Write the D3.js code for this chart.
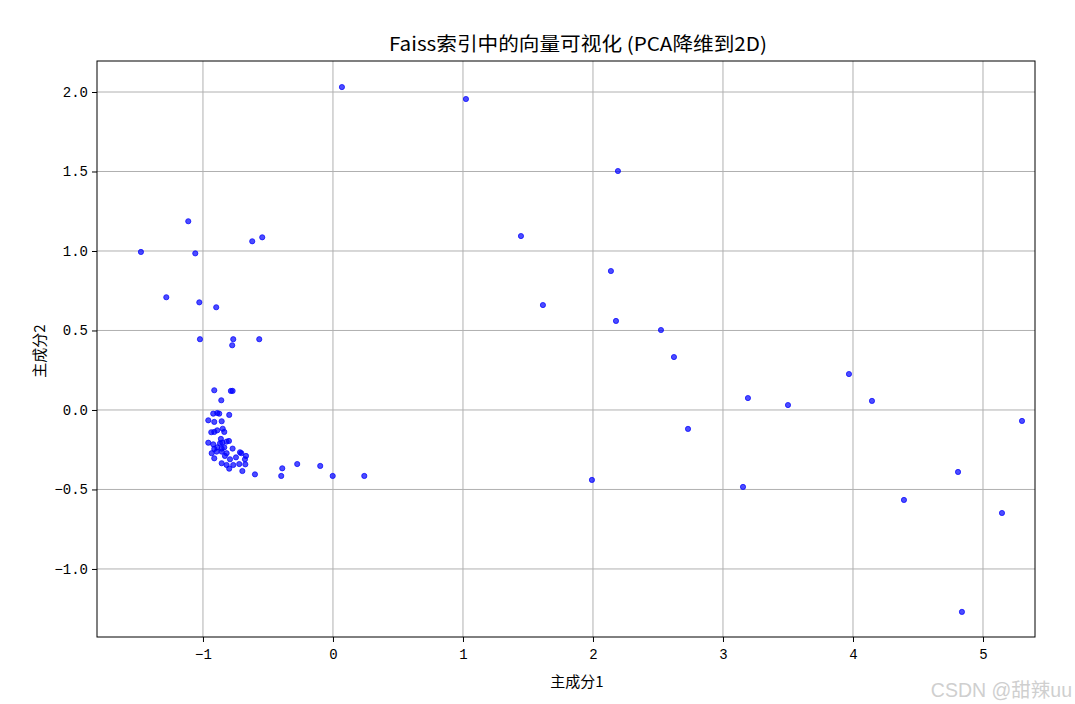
<!DOCTYPE html>
<html>
<head>
<meta charset="utf-8">
<script src="https://d3js.org/d3.v7.min.js"></script>
<style>
  body { margin: 0; background: #fff; }
  text { font-family: "Noto Sans CJK SC", "DejaVu Sans", sans-serif; }
</style>
</head>
<body>
<svg id="main_graph" width="1075" height="704"></svg>
<script>
// PCA components
var pc1 = [
  -0.913, -0.785, -0.772, -0.859, -0.921, -0.890, -0.875, -0.798, -0.959, -0.913,
  -0.856, -0.848, -0.890, -0.936, -0.913, -0.836, -0.862, -0.959, -0.921, -0.869,
  -0.851, -0.818, -0.800, -0.913, -0.890, -0.856, -0.836, -0.772, -0.933, -0.895,
  -0.856, -0.818, -0.715, -0.705, -0.913, -0.831, -0.792, -0.746, -0.669, -0.677,
  -0.856, -0.818, -0.767, -0.721, -0.674, -0.798, -0.697,
  -1.477, -1.113, -1.059, -1.282, -1.028, -0.898, -1.023, -0.767, -0.775, -0.567,
  -0.621, -0.544,
  -0.600, -0.390, -0.398, -0.275, -0.098, -0.002, 0.241,
  0.069, 1.023, 2.192, 1.446, 2.138, 1.615, 2.177, 2.523, 2.623, 3.192,
  3.500, 2.731, 3.969, 4.146, 5.300, 1.992, 3.154, 4.808, 4.392, 5.146, 4.838
];
var pc2 = [
  0.124, 0.120, 0.120, 0.061, -0.023, -0.019, -0.023, -0.031, -0.065, -0.075,
  -0.071, -0.118, -0.128, -0.140, -0.138, -0.138, -0.182, -0.206, -0.216, -0.210,
  -0.206, -0.199, -0.195, -0.245, -0.235, -0.243, -0.235, -0.243, -0.272, -0.262,
  -0.262, -0.272, -0.266, -0.272, -0.304, -0.289, -0.310, -0.298, -0.289, -0.310,
  -0.335, -0.346, -0.346, -0.340, -0.342, -0.369, -0.384,
  0.994, 1.187, 0.985, 0.709, 0.677, 0.646, 0.445, 0.445, 0.407, 0.445,
  1.061, 1.086,
  -0.405, -0.367, -0.415, -0.340, -0.352, -0.415, -0.415,
  2.031, 1.956, 1.503, 1.094, 0.874, 0.660, 0.560, 0.503, 0.333, 0.075,
  0.031, -0.119, 0.226, 0.057, -0.069, -0.440, -0.484, -0.390, -0.566, -0.648, -1.270
];
var xTicks = [-1, 0, 1, 2, 3, 4, 5];
var yTicks = [-1.0, -0.5, 0.0, 0.5, 1.0, 1.5, 2.0];

var svg = d3.select("svg");
var W = 1075, H = 704;
var m = { left: 97, right: 40, top: 61, bottom: 67 };

svg.append("rect").attr("width", W).attr("height", H).attr("fill", "#fff");

var x = d3.scaleLinear().domain([-1.815, 5.4]).range([m.left, W - m.right]);
var y = d3.scaleLinear().domain([-1.428, 2.195]).range([H - m.bottom, m.top]);

var fmtY = function(d) { return d3.format(".1f")(d).replace("-", "\u2212"); };
var fmtX = function(d) { return String(d).replace("-", "\u2212"); };

// grid
var g = svg.append("g");
g.selectAll(".gx").data(xTicks).enter().append("line")
  .attr("x1", function(d) { return x(d); }).attr("x2", function(d) { return x(d); })
  .attr("y1", m.top).attr("y2", H - m.bottom)
  .attr("stroke", "#b0b0b0").attr("stroke-width", 1);
g.selectAll(".gy").data(yTicks).enter().append("line")
  .attr("y1", function(d) { return y(d); }).attr("y2", function(d) { return y(d); })
  .attr("x1", m.left).attr("x2", W - m.right)
  .attr("stroke", "#b0b0b0").attr("stroke-width", 1);

// points
svg.append("g").selectAll("circle")
  .data(pc1.map(function(v, i) { return [v, pc2[i]]; }))
  .enter().append("circle")
  .attr("cx", function(d) { return x(d[0]); })
  .attr("cy", function(d) { return y(d[1]); })
  .attr("r", 2.6)
  .attr("fill", "blue").attr("fill-opacity", 0.7)
  .attr("stroke", "blue").attr("stroke-opacity", 0.7).attr("stroke-width", 1);

// axes
var xAxis = svg.append("g").attr("transform", "translate(0," + (H - m.bottom) + ")")
  .call(d3.axisBottom(x).tickValues(xTicks).tickFormat(fmtX).tickSize(5).tickPadding(4).tickSizeOuter(0));
var yAxis = svg.append("g").attr("transform", "translate(" + m.left + ",0)")
  .call(d3.axisLeft(y).tickValues(yTicks).tickFormat(fmtY).tickSize(5).tickPadding(4).tickSizeOuter(0));
[xAxis, yAxis].forEach(function(a) {
  a.select(".domain").remove();
  a.selectAll("text").attr("font-size", 14).attr("fill", "#000")
    .style("font-family", "'Liberation Mono', 'DejaVu Sans Mono', monospace");
  a.selectAll("line").attr("stroke", "#000");
});
xAxis.selectAll("text").attr("dy", "0.9em");

svg.append("rect")
  .attr("x", m.left).attr("y", m.top)
  .attr("width", W - m.left - m.right).attr("height", H - m.top - m.bottom)
  .attr("fill", "none").attr("stroke", "#000").attr("stroke-width", 1);

// labels
svg.append("text").attr("x", 578).attr("y", 51)
  .attr("text-anchor", "middle").attr("font-size", 19)
  .attr("textLength", 378).attr("lengthAdjust", "spacingAndGlyphs")
  .text("Faiss索引中的向量可视化 (PCA降维到2D)");
svg.append("text").attr("x", 577).attr("y", 687)
  .attr("text-anchor", "middle").attr("font-size", 15)
  .text("主成分1");
svg.append("text")
  .attr("transform", "translate(45," + ((m.top + H - m.bottom) / 2 + 2) + ") rotate(-90)")
  .attr("text-anchor", "middle").attr("font-size", 15)
  .text("主成分2");

// watermark
svg.append("text").attr("x", 1072).attr("y", 697)
  .attr("text-anchor", "end").attr("font-size", 19.5).attr("fill", "#cfcfcf")
  .style("font-family", "'Liberation Sans', 'Noto Sans CJK SC', sans-serif")
  .text("CSDN @甜辣uu");
</script>
</body>
</html>
